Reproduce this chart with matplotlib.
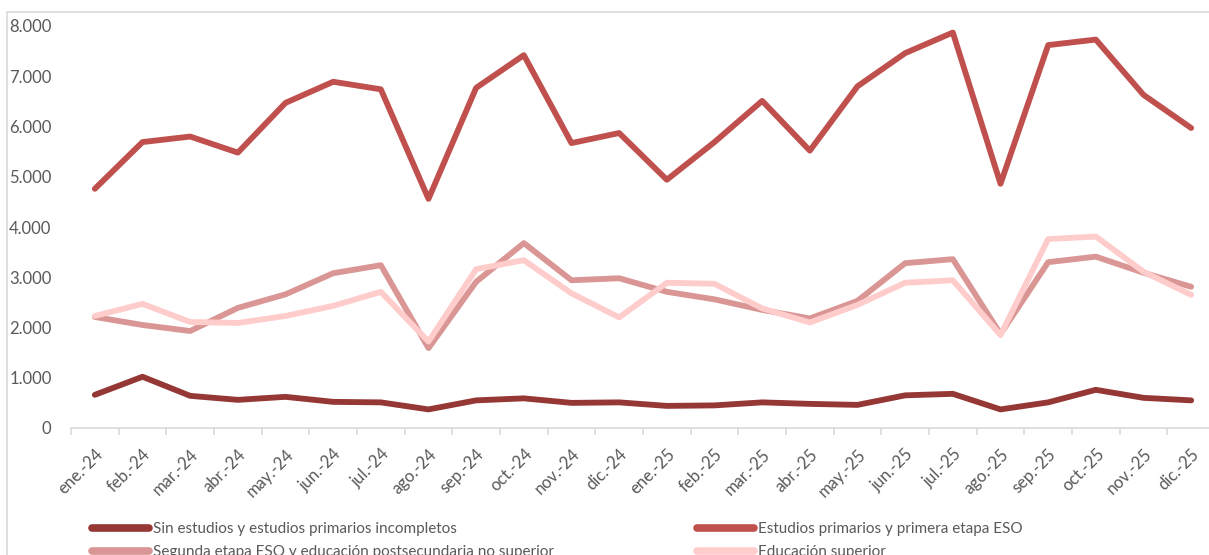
import matplotlib
matplotlib.use('Agg')
import matplotlib.pyplot as plt
from matplotlib.patches import Rectangle
from matplotlib.ticker import FuncFormatter, FixedLocator
import numpy as np

plt.rcParams['font.family'] = ['Lato', 'DejaVu Sans']

# months on the x axis
months = ['ene.-24', 'feb.-24', 'mar.-24', 'abr.-24', 'may.-24', 'jun.-24',
          'jul.-24', 'ago.-24', 'sep.-24', 'oct.-24', 'nov.-24', 'dic.-24',
          'ene.-25', 'feb.-25', 'mar.-25', 'abr.-25', 'may.-25', 'jun.-25',
          'jul.-25', 'ago.-25', 'sep.-25', 'oct.-25', 'nov.-25', 'dic.-25']

sin_estudios = [660, 1020, 640, 560, 620, 520, 510, 370, 550, 590, 500, 510,
                440, 450, 510, 480, 460, 650, 680, 370, 510, 760, 600, 550]
primarios = [4760, 5690, 5800, 5480, 6470, 6890, 6740, 4560, 6770, 7420, 5670, 5870,
             4940, 5690, 6510, 5520, 6800, 7460, 7870, 4860, 7620, 7730, 6630, 5970]
segunda_eso = [2210, 2050, 1930, 2390, 2660, 3080, 3240, 1590, 2910, 3680, 2940, 2980,
               2710, 2560, 2350, 2180, 2530, 3280, 3360, 1870, 3300, 3410, 3090, 2810]
superior = [2230, 2470, 2110, 2090, 2230, 2430, 2710, 1720, 3160, 3340, 2680, 2200,
            2890, 2870, 2380, 2100, 2450, 2890, 2940, 1850, 3760, 3810, 3110, 2650]

series_names = ['Sin estudios y estudios primarios incompletos',
                'Estudios primarios y primera etapa ESO',
                'Segunda etapa ESO y educación postsecundaria no superior',
                'Educación superior']
colors = ['#953735', '#C0504D', '#D99694', '#FFCCCC']

W, H = 1209, 555
fig = plt.figure(figsize=(W / 100, H / 100), dpi=100)
ax = fig.add_axes([71 / W, 1 - 428 / H, (1215 - 71) / W, (428 - 26) / H])

x = np.arange(len(months))
all_series = [sin_estudios, primarios, segunda_eso, superior]
lines = []
for vals, col, name in zip(all_series, colors, series_names):
    ln, = ax.plot(x, vals, color=col, lw=4.2, solid_capstyle='round',
                  solid_joinstyle='round', label=name)
    lines.append(ln)

ax.set_xlim(-0.5, len(months) - 0.5)
ax.set_ylim(0, 8000)

for s in ['top', 'right', 'left']:
    ax.spines[s].set_visible(False)
ax.spines['bottom'].set_color('#D9D9D9')
ax.spines['bottom'].set_linewidth(1.2)

ax.set_yticks(np.arange(0, 8001, 1000))
ax.yaxis.set_major_formatter(FuncFormatter(lambda v, p: f'{int(v):,}'.replace(',', '.')))
ax.tick_params(axis='y', length=0, pad=14, labelsize=12, labelcolor='#595959')

ax.set_xticks(x)
ax.set_xticklabels(months, rotation=45, ha='right', rotation_mode='anchor')
ax.xaxis.set_minor_locator(FixedLocator(np.arange(-0.5, len(months), 1)))
ax.tick_params(axis='x', which='major', length=0, pad=13, labelsize=12, labelcolor='#595959')
ax.tick_params(axis='x', which='minor', length=5, width=1.2, color='#D9D9D9', direction='out')

# chart area border (cropped)
fig.add_artist(Rectangle((7 / W, -0.2), 1.2, 1.2 - 12 / H, transform=fig.transFigure,
                         fill=False, edgecolor='#D9D9D9', lw=1.2))

leg_kw = dict(frameon=False, loc='upper left', fontsize=11, borderpad=0, borderaxespad=0,
              handlelength=3.7, handletextpad=0.3, labelspacing=0.62, labelcolor='#595959')
leg1 = fig.legend([lines[0], lines[2]], [series_names[0], series_names[2]],
                  bbox_to_anchor=(92 / W, 1 - 522 / H), **leg_kw)
leg2 = fig.legend([lines[1], lines[3]], [series_names[1], series_names[3]],
                  bbox_to_anchor=(697 / W, 1 - 522 / H), **leg_kw)
for lg in (leg1, leg2):
    for h in lg.legend_handles:
        h.set_linewidth(5.5)

fig.savefig('out.png', dpi=100)
